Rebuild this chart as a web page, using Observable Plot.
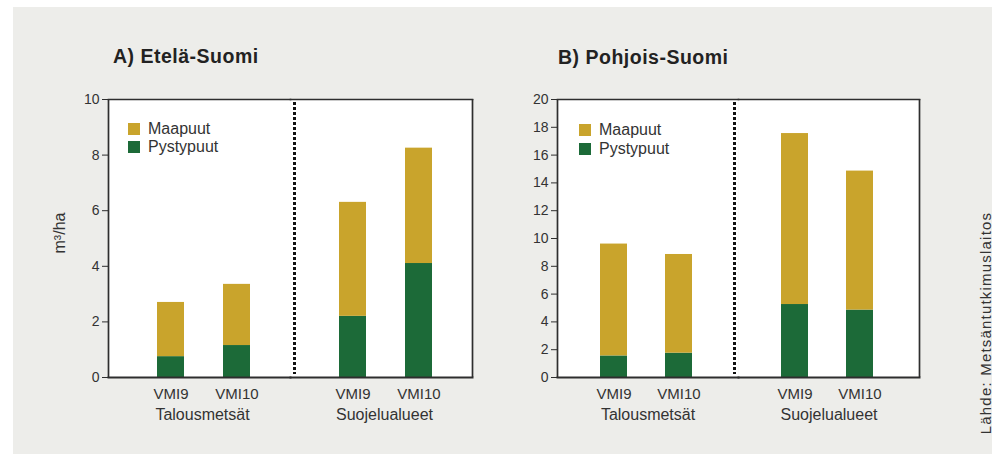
<!DOCTYPE html>
<html>
<head>
<meta charset="utf-8">
<script src="https://cdn.jsdelivr.net/npm/d3@7"></script>
<script src="https://cdn.jsdelivr.net/npm/@observablehq/plot@0.6"></script>
<style>
  html, body { margin: 0; padding: 0; background: #ffffff; }
  body { width: 992px; height: 454px; position: relative; overflow: hidden; font-family: "Liberation Sans", Arial, sans-serif; color: #333; }
  #bg { position: absolute; left: 13px; top: 7px; width: 979px; height: 447px; background: #ededea; }
  .abs { position: absolute; }
  .title { font-weight: bold; font-size: 19.5px; line-height: 1; color: #222; letter-spacing: 0.5px; white-space: nowrap; }
  .legend { font-size: 16px; color: #333; line-height: 1; }
  .legend .row { display: flex; align-items: center; white-space: nowrap; }
  .legend .sw { width: 12px; height: 12px; margin-right: 8px; }
  .rot { transform: translate(-50%, -50%) rotate(-90deg); white-space: nowrap; line-height: 1; }
</style>
</head>
<body>
<div id="bg"></div>
<div id="root"></div>
<script>
// ---- data ----
const groups = ["Talousmetsät", "Suojelualueet"];
const surveys = ["VMI9", "VMI10"];
const components = ["Maapuut", "Pystypuut"];
const componentColors = ["#c9a42c", "#1c6a38"];
const panelTitles = ["A) Etelä-Suomi", "B) Pohjois-Suomi"];
const yLabel = "m³/ha";
const sourceText = "Lähde: Metsäntutkimuslaitos";

// order: Talousmetsät VMI9, VMI10, Suojelualueet VMI9, VMI10
const southPystypuut = [0.75, 1.15, 2.2, 4.1];
const southMaapuut = [1.95, 2.2, 4.1, 4.15];
const northPystypuut = [1.55, 1.75, 5.25, 4.85];
const northMaapuut = [8.05, 7.1, 12.3, 10.0];

const southTicks = [0, 2, 4, 6, 8, 10];
const northTicks = [0, 2, 4, 6, 8, 10, 12, 14, 16, 18, 20];

function rows(standing, down) {
  const out = [];
  groups.forEach((g, gi) => surveys.forEach((s, si) => {
    const i = gi * surveys.length + si;
    out.push({group: g, survey: s, component: "Pystypuut", value: standing[i]});
    out.push({group: g, survey: s, component: "Maapuut", value: down[i]});
  }));
  return out;
}

function panel({data, ticks, width, marginLeft, marginRight, align, dividerDx, labelDx}) {
  const lineColor = "#2e2e2e";
  const facetW = (width - marginLeft - marginRight) / groups.length;
  return Plot.plot({
    width, height: 345,
    marginTop: 14, marginBottom: 53, marginLeft, marginRight,
    style: {background: "transparent", fontFamily: "'Liberation Sans', Arial, sans-serif", fontSize: "14px", color: "#333", overflow: "visible"},
    fx: {domain: groups, padding: 0, axis: null},
    x: {domain: surveys, paddingInner: 0.59, paddingOuter: 0.67, align, axis: null},
    y: {domain: [ticks[0], ticks[ticks.length - 1]], axis: null},
    color: {domain: components, range: componentColors},
    marks: [
      Plot.frame({fill: "white", stroke: "none"}),
      Plot.barY(data, Plot.stackY({fx: "group", x: "survey", y: "value", fill: "component"})),
      Plot.frame({anchor: "top", stroke: lineColor, strokeWidth: 1.7}),
      Plot.frame({anchor: "bottom", stroke: lineColor, strokeWidth: 2}),
      // outer left edge (first group) and outer right edge (last group)
      Plot.ruleX([groups[0]], {x: null, fx: d => d, dx: -facetW / 2, stroke: lineColor, strokeWidth: 1.7}),
      Plot.ruleX([groups[1]], {x: null, fx: d => d, dx: facetW / 2, stroke: lineColor, strokeWidth: 1.7}),
      // dotted divider between the groups
      Plot.ruleX([groups[1]], {x: null, fx: d => d, dx: -facetW / 2 + dividerDx, stroke: "#111", strokeWidth: 3, strokeDasharray: "3,2", insetTop: 3, insetBottom: 3}),
      Plot.axisY({ticks, tickSize: 6, tickPadding: 3, label: null, fontSize: 14, stroke: lineColor}),
      Plot.axisX({tickSize: 0, tickPadding: 11, label: null, fontSize: 15}),
      Plot.text(groups, {fx: d => d, text: d => d, frameAnchor: "bottom", dy: 42.5, dx: labelDx, fontSize: 16})
    ]
  });
}

function place(el, left, top) {
  const d = document.createElement("div");
  d.className = "abs";
  d.style.left = left + "px";
  d.style.top = top + "px";
  d.appendChild(el);
  document.getElementById("root").appendChild(d);
  return d;
}

function textDiv(cls, text, left, top) {
  const d = document.createElement("div");
  d.className = "abs " + cls;
  d.textContent = text;
  d.style.left = left + "px";
  d.style.top = top + "px";
  document.getElementById("root").appendChild(d);
  return d;
}

function legend(left, top, rowGap) {
  const d = document.createElement("div");
  d.className = "abs legend";
  d.style.left = left + "px";
  d.style.top = top + "px";
  components.forEach((c, i) => {
    const r = document.createElement("div");
    r.className = "row";
    r.style.height = rowGap + "px";
    const sw = document.createElement("div");
    sw.className = "sw";
    sw.style.background = componentColors[i];
    const t = document.createElement("span");
    t.textContent = c;
    r.appendChild(sw); r.appendChild(t);
    d.appendChild(r);
  });
  document.getElementById("root").appendChild(d);
}

place(panel({data: rows(southPystypuut, southMaapuut), ticks: southTicks, width: 450, marginLeft: 68, marginRight: 18, align: 0.55, dividerDx: 4, labelDx: 3}), 40, 85);
place(panel({data: rows(northPystypuut, northMaapuut), ticks: northTicks, width: 450, marginLeft: 57, marginRight: 31, align: 0.48, dividerDx: -4, labelDx: 0}), 500, 85);

textDiv("title", panelTitles[0], 113, 47);
textDiv("title", panelTitles[1], 558, 48);
legend(128, 120, 18);
legend(579, 120, 19.5);
textDiv("rot", yLabel, 60, 233).style.fontSize = "16px";
const s = textDiv("rot", sourceText, 985, 323);
s.style.fontSize = "15px";
s.style.letterSpacing = "1.2px";
</script>
</body>
</html>
